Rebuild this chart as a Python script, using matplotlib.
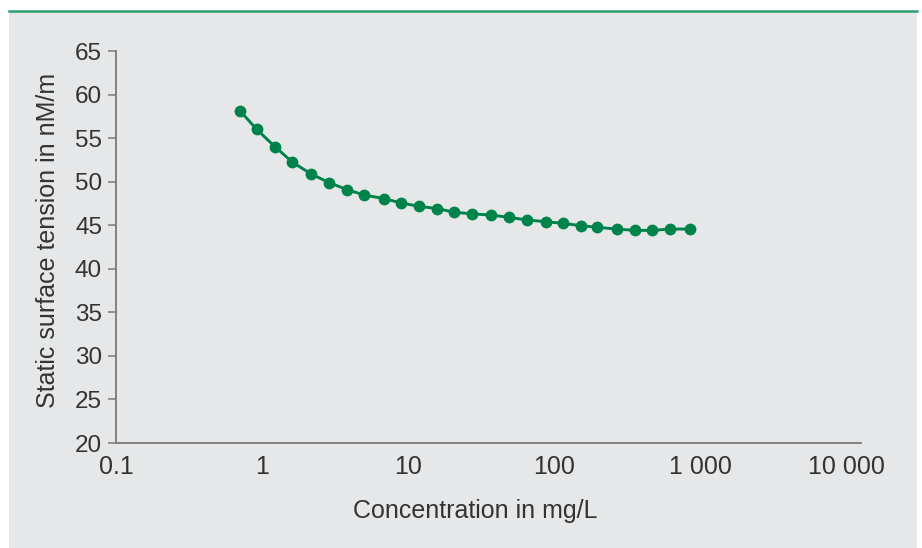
import matplotlib.pyplot as plt
from matplotlib.patches import Rectangle
from matplotlib.lines import Line2D
from matplotlib.ticker import FixedLocator, FixedFormatter, NullLocator

# data
conc = [0.71, 0.92, 1.23, 1.61, 2.16, 2.88, 3.80, 5.02, 6.88, 9.0,
        11.9, 15.9, 20.7, 27.4, 37.0, 49.4, 65.3, 88.6, 115, 153,
        198, 269, 359, 469, 626, 859]
tension = [58.1, 56.0, 54.0, 52.26, 50.9, 49.9, 49.1, 48.47, 48.05, 47.55,
           47.17, 46.9, 46.5, 46.3, 46.17, 45.9, 45.6, 45.4, 45.22, 44.95,
           44.76, 44.56, 44.41, 44.41, 44.56, 44.56]
x_ticks = [0.1, 1, 10, 100, 1000, 10000]
x_labels = ['0.1', '1', '10', '100', '1 000', '10 000']
y_ticks = [20, 25, 30, 35, 40, 45, 50, 55, 60, 65]

plt.rcParams['font.family'] = ['Liberation Sans', 'DejaVu Sans']
text_col = '#333333'
axis_col = '#7a7a7a'
bg = '#e6e7e8'

fig = plt.figure(figsize=(9.22, 5.48), dpi=100)
fig.patch.set_facecolor('white')

# grey panel and green rule on top
panel = Rectangle((9 / 922, 0), (917 - 9) / 922, 1 - 12 / 548,
                  transform=fig.transFigure, facecolor=bg,
                  edgecolor='none', zorder=-10)
fig.add_artist(panel)
rule = Line2D([9 / 922, 917 / 922], [1 - 11 / 548, 1 - 11 / 548],
              transform=fig.transFigure, color='#2e9e6a', lw=1.8, zorder=-5)
fig.add_artist(rule)

ax = fig.add_axes([116 / 922, 1 - 443 / 548, (861 - 116) / 922, 392 / 548])
ax.set_zorder(5)
ax.set_facecolor('none')

ax.plot(conc, tension, color='#00834a', lw=2.1, marker='o', markersize=8.5,
        markeredgewidth=0, clip_on=False)

ax.set_xscale('log')
ax.set_xlim(0.1, 12680)
ax.set_ylim(20, 65)
ax.xaxis.set_major_locator(FixedLocator(x_ticks))
ax.xaxis.set_major_formatter(FixedFormatter(x_labels))
ax.xaxis.set_minor_locator(NullLocator())
ax.set_yticks(y_ticks)

for s in ['top', 'right']:
    ax.spines[s].set_visible(False)
for s in ['left', 'bottom']:
    ax.spines[s].set_color(axis_col)
    ax.spines[s].set_linewidth(1.3)

ax.tick_params(axis='y', direction='out', length=6, width=1.1, color=axis_col,
               labelsize=17.5, labelcolor=text_col, pad=4)
ax.tick_params(axis='x', length=0, labelsize=18, labelcolor=text_col, pad=9)

ax.set_xlabel('Concentration in mg/L', fontsize=18, color=text_col, labelpad=14)
ax.set_ylabel('Static surface tension in nM/m', fontsize=18, color=text_col,
              labelpad=11)
ax.xaxis.label.set_x(0.482)
ax.yaxis.label.set_y(0.518)

plt.savefig('out.png', dpi=100, facecolor=fig.get_facecolor())
